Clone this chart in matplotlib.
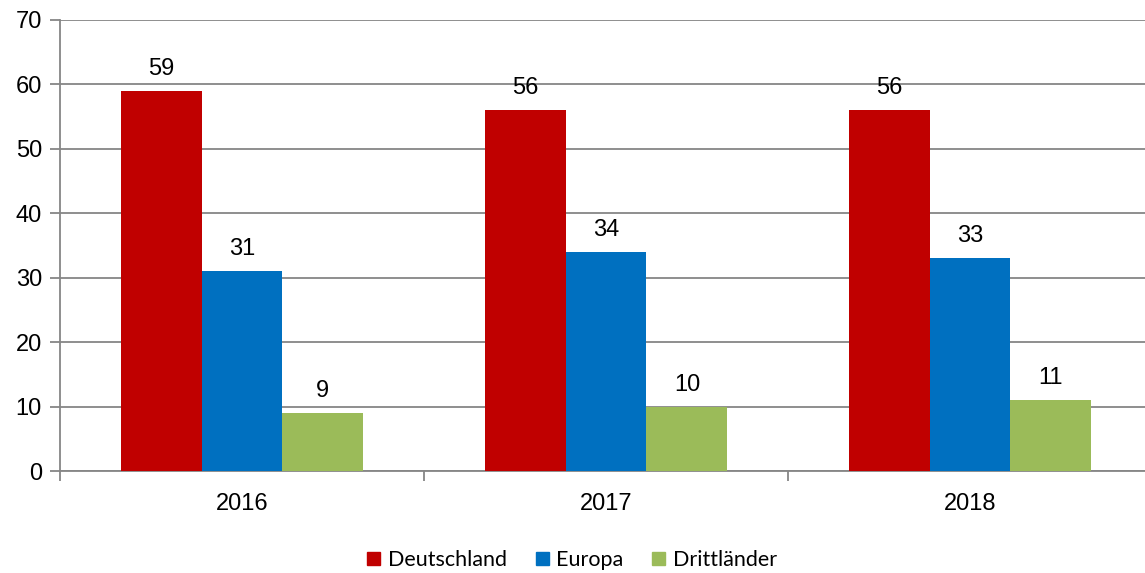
import numpy as np
import matplotlib
matplotlib.use("Agg")
import matplotlib.pyplot as plt
from matplotlib.patches import Patch

# ── Data ──────────────────────────────────────────────────────────────────────
years = ["2016", "2017", "2018"]
series_names = ["Deutschland", "Europa", "Drittländer"]
deutschland = [59, 56, 56]
europa = [31, 34, 33]
drittlaender = [9, 10, 11]
colors = ["#C00000", "#0070C0", "#9BBB59"]

plt.rcParams["font.family"] = ["Liberation Sans", "DejaVu Sans"]

fig = plt.figure(figsize=(11.45, 5.73), dpi=100)
ax = fig.add_axes([60 / 1145, 102 / 573, 1092 / 1145, 451 / 573])

x = np.arange(len(years))
width = 1 / 4.5
grid_c = "#868686"

for i, vals in enumerate([deutschland, europa, drittlaender]):
    pos = x + (i - 1) * width
    ax.bar(pos, vals, width, color=colors[i], zorder=3)
    for p, v in zip(pos, vals):
        ax.text(p, v + 1.7, str(v), ha="center", va="bottom", fontsize=17)

ax.set_xlim(-0.5, len(years) - 0.5)
ax.set_ylim(0, 70)
ax.set_yticks(range(0, 71, 10))
ax.yaxis.grid(True, color=grid_c, linewidth=1.3, zorder=0)
ax.set_axisbelow(True)

# category labels centered, ticks between groups
ax.set_xticks(x)
ax.set_xticklabels(years, fontsize=17)
ax.tick_params(axis="x", length=0, pad=16)
ax.set_xticks(np.arange(-0.5, len(years)), minor=True)
ax.tick_params(axis="x", which="minor", length=7, color=grid_c, width=1.3)
ax.tick_params(axis="y", length=7, color=grid_c, width=1.3, labelsize=17, pad=6)

for s in ["top", "right"]:
    ax.spines[s].set_visible(False)
for s in ["left", "bottom"]:
    ax.spines[s].set_color(grid_c)
    ax.spines[s].set_linewidth(1.3)

handles = [Patch(color=c, label=n) for c, n in zip(colors, series_names)]
fig.legend(handles=handles, loc="center", bbox_to_anchor=(572 / 1145, 1 - 560 / 573),
           ncol=3, frameon=False, prop={"family": "Lato", "size": 15.5},
           handlelength=0.6, handleheight=0.6, handletextpad=0.35, columnspacing=1.34)

fig.savefig("out.png", dpi=100)
